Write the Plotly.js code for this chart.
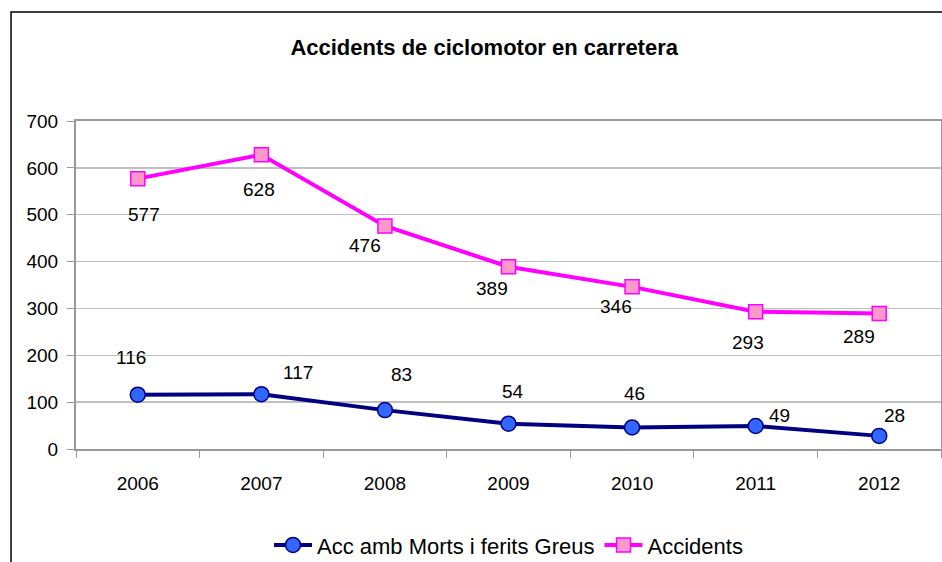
<!DOCTYPE html>
<html>
<head>
<meta charset="utf-8">
<script src="https://cdn.plot.ly/plotly-3.0.1.min.js"></script>
<style>
  html, body { margin: 0; padding: 0; background: #ffffff; }
  #chart { width: 942px; height: 562px; }
</style>
</head>
<body>
<div id="chart"></div>
<script>
// values
const years = ['2006', '2007', '2008', '2009', '2010', '2011', '2012'];
const greus = [116, 117, 83, 54, 46, 49, 28];
const accidents = [577, 628, 476, 389, 346, 293, 289];
const yTicks = [0, 100, 200, 300, 400, 500, 600, 700];

// where each data label sits relative to its point, in pixels
const greusShift = [[-7, 37], [37, 22], [17, 36], [4, 32], [2, 34], [24, 11], [15, 20]];
const accShift = [[6, -36], [-2, -35], [-20, -20], [-17, -22], [-16, -20], [-8, -31], [-20, -23]];

const font = 'Liberation Sans, Arial, sans-serif';

const traceGreus = {
    x: years,
    y: greus,
    name: 'Acc amb Morts i ferits Greus',
    type: 'scatter',
    mode: 'lines+markers',
    line: { color: '#000080', width: 4 },
    marker: {
        symbol: 'circle',
        size: 15,
        color: '#3366ff',
        line: { color: '#000080', width: 1.5 }
    }
};

const traceAcc = {
    x: years,
    y: accidents,
    name: 'Accidents',
    type: 'scatter',
    mode: 'lines+markers',
    line: { color: '#ff00ff', width: 4 },
    marker: {
        symbol: 'square',
        size: 14,
        color: '#ff99cc',
        line: { color: '#ff00ff', width: 1.5 }
    }
};

// data labels: x is the category's serial number on the category axis
const annotations = [];
years.forEach(function (yr, i) {
    annotations.push({
        x: i, y: greus[i], text: String(greus[i]),
        showarrow: false, xshift: greusShift[i][0], yshift: greusShift[i][1],
        font: { family: font, size: 19, color: '#000' }
    });
    annotations.push({
        x: i, y: accidents[i], text: String(accidents[i]),
        showarrow: false, xshift: accShift[i][0], yshift: accShift[i][1],
        font: { family: font, size: 19, color: '#000' }
    });
});

const layout = {
    width: 942,
    height: 562,
    paper_bgcolor: '#ffffff',
    plot_bgcolor: '#ffffff',
    font: { family: font, size: 19, color: '#000' },
    margin: { l: 76, r: 1, t: 121, b: 113 },
    title: {
        text: '<b>Accidents de ciclomotor en carretera</b>',
        font: { family: font, size: 22, color: '#000' },
        xref: 'container', x: 0.514,
        yref: 'container', y: 0.916, yanchor: 'middle'
    },
    xaxis: {
        type: 'category',
        range: [-0.5, 6.5],
        showline: true, linecolor: '#999999', linewidth: 2, mirror: true,
        ticks: 'outside', tickson: 'boundaries', ticklen: 7, tickcolor: '#999999', tickwidth: 1,
        ticklabelstandoff: 16,
        showgrid: false,
        tickfont: { family: font, size: 19, color: '#000' },
        zeroline: false
    },
    yaxis: {
        range: [0, 700],
        tickvals: yTicks,
        showline: true, linecolor: '#999999', linewidth: 2, mirror: true,
        ticks: 'outside', ticklen: 7, tickcolor: '#999999',
        ticklabelstandoff: 5,
        gridcolor: '#c0c0c0', gridwidth: 1.5,
        zeroline: false,
        tickfont: { family: font, size: 19, color: '#000' }
    },
    showlegend: true,
    legend: {
        orientation: 'h',
        xref: 'paper', x: 0.5, xanchor: 'center',
        yref: 'container', y: 0.030, yanchor: 'middle',
        itemwidth: 38,
        font: { family: font, size: 22, color: '#000' },
        bgcolor: 'rgba(0,0,0,0)'
    },
    annotations: annotations,
    shapes: [{
        type: 'rect', xref: 'paper', yref: 'paper',
        x0: -0.0751, x1: 1.05, y0: -0.5, y1: 1.332,
        line: { color: '#000000', width: 1.5 },
        layer: 'below'
    }]
};

Plotly.newPlot('chart', [traceGreus, traceAcc], layout, { staticPlot: true });
</script>
</body>
</html>
